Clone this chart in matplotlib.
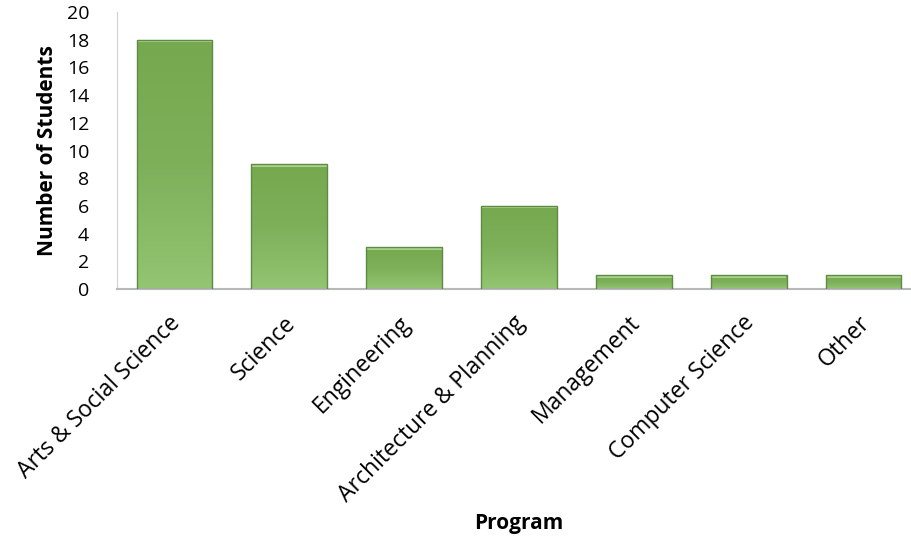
import numpy as np
import matplotlib.pyplot as plt
import matplotlib.transforms as mtrans
from matplotlib.colors import LinearSegmentedColormap

programs = ['Arts & Social Science', 'Science', 'Engineering',
            'Architecture & Planning', 'Management', 'Computer Science', 'Other']
students = [18, 9, 3, 6, 1, 1, 1]
yticks = [0, 2, 4, 6, 8, 10, 12, 14, 16, 18, 20]

plt.rcParams['font.family'] = ['Open Sans', 'DejaVu Sans']

fig = plt.figure(figsize=(9.12, 5.37), dpi=100)
# axes runs a bit past the right edge, like the original
ax = fig.add_axes([117 / 912, 248 / 537, 804 / 912, 277 / 537])

x = np.arange(len(programs))
bars = ax.bar(x, students, width=0.66, color='#82b45e', edgecolor='#5f8a43',
              linewidth=1.0, zorder=2)

# vertical gradient fill: darker on top, lighter at the bottom
cmap = LinearSegmentedColormap.from_list('g', ['#93c572', '#7eb05a', '#76a84f'])
grad = np.linspace(0, 1, 256).reshape(-1, 1)
for b in bars:
    bx, by = b.get_x(), b.get_y()
    w, h = b.get_width(), b.get_height()
    im = ax.imshow(grad, cmap=cmap, aspect='auto', origin='lower',
                   extent=[bx, bx + w, by, by + h], zorder=2.5)
    im.set_clip_path(b)
    # thin highlight line at the top of each bar
    ax.plot([bx + 0.01, bx + w - 0.01], [by + h - 0.1, by + h - 0.1],
            color='#a6d38a', lw=1.5, zorder=3)
    b.set_zorder(3.5)
    b.set_facecolor('none')

ax.set_xlim(-0.5, len(programs) - 0.5)
ax.set_ylim(0, 20)
ax.set_yticks(yticks)
ax.set_yticklabels([str(t) for t in yticks], fontsize=14)
ax.set_xticks(x)
ax.set_xticklabels(programs, rotation=45, ha='right', rotation_mode='anchor',
                   fontsize=16.5)
ax.tick_params(axis='y', length=0, pad=20)
ax.tick_params(axis='x', length=0, pad=16)

# nudge the slanted labels a little to the left
shift = mtrans.ScaledTranslation(-6 / 100, 0, fig.dpi_scale_trans)
for lab in ax.get_xticklabels():
    lab.set_transform(lab.get_transform() + shift)

for s in ['top', 'right']:
    ax.spines[s].set_visible(False)
ax.spines['left'].set_color('#d0d0d0')
ax.spines['bottom'].set_color('#b8b8b8')
ax.spines['bottom'].set_linewidth(1.5)

ax.set_ylabel('Number of Students', fontsize=15, fontweight='bold', labelpad=6)
ax.set_xlabel('Program', fontsize=15, fontweight='bold', labelpad=4.5)

fig.savefig('out.png', dpi=100)
